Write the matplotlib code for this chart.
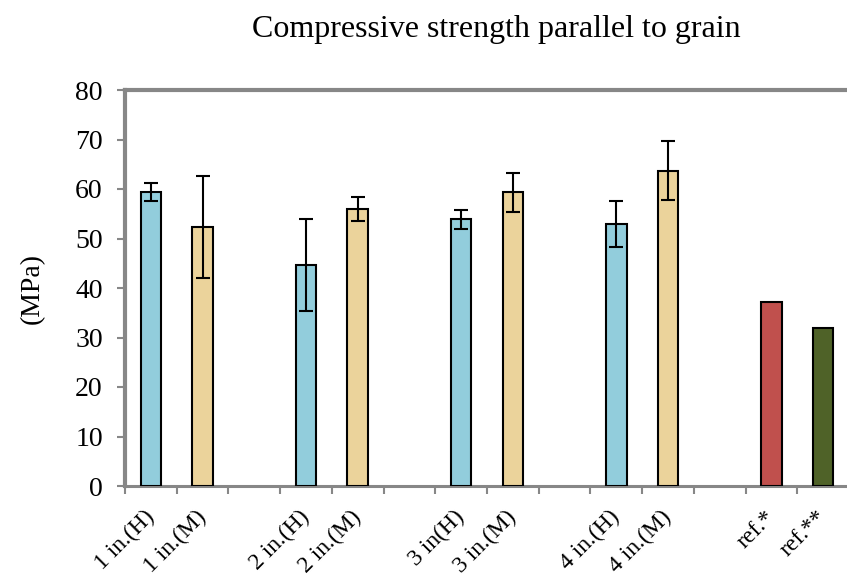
import matplotlib
matplotlib.use("Agg")
import matplotlib.pyplot as plt
import numpy as np

plt.rcParams['font.family'] = ['Liberation Serif', 'DejaVu Serif']

# slot labels along the x axis (empty strings are gaps between groups)
slots = ['1 in.(H)', '1 in.(M)', '', '2 in.(H)', '2 in.(M)', '', '3 in(H)', '3 in.(M)', '',
         '4 in.(H)', '4 in.(M)', '', 'ref.*', 'ref.**']
bar_labels = ['1 in.(H)', '1 in.(M)', '2 in.(H)', '2 in.(M)', '3 in(H)', '3 in.(M)',
              '4 in.(H)', '4 in.(M)', 'ref.*', 'ref.**']
strength = [59.4, 52.4, 44.6, 56.0, 53.9, 59.3, 52.9, 63.7, 37.1, 32.0]
std_dev = [1.9, 10.3, 9.3, 2.4, 1.9, 3.9, 4.6, 6.0, 0, 0]
has_err = [True, True, True, True, True, True, True, True, False, False]
colors = ['#92cddc', '#ebd39b', '#92cddc', '#ebd39b', '#92cddc', '#ebd39b',
          '#92cddc', '#ebd39b', '#c0504d', '#4f6228']

fig = plt.figure(figsize=(8.47, 5.85), dpi=100)
ax = fig.add_axes([125 / 847, 1 - 486 / 585, 724 / 847, 396 / 585])

x = np.array([slots.index(l) for l in bar_labels]) + 0.5
ax.bar(x, strength, width=0.4, color=colors, edgecolor='black', linewidth=1.5, zorder=3)
for xi, v, e, h in zip(x, strength, std_dev, has_err):
    if h:
        ax.errorbar(xi, v, yerr=e, fmt='none', ecolor='black', elinewidth=1.5,
                    capsize=5, capthick=1.5, zorder=4)

ax.set_xlim(0, len(slots))
ax.set_ylim(0, 80)
ax.set_yticks(range(0, 81, 10))

ax.set_xticks(range(0, len(slots) + 1))
ax.set_xticklabels([])
ax.set_xticks(np.arange(len(slots)) + 0.5, minor=True)
ax.set_xticklabels(slots, minor=True, rotation=45, ha='right', va='center',
                   rotation_mode='anchor', fontsize=17)
ax.tick_params(axis='x', which='minor', length=0, pad=20)
ax.tick_params(axis='x', which='major', direction='out', length=6, width=1.5, color='#878787')
ax.tick_params(axis='y', direction='out', length=6, width=1.5, color='#878787',
               labelsize=20, pad=10)

for s in ['top', 'left', 'right']:
    ax.spines[s].set_color('#878787')
    ax.spines[s].set_linewidth(3)
ax.spines['bottom'].set_color('#878787')
ax.spines['bottom'].set_linewidth(2.2)

fig.text(496 / 847, 1 - 30 / 585, 'Compressive strength parallel to grain',
         ha='center', va='center', fontsize=23)
fig.text(32 / 847, 1 - 288 / 585, '(MPa)', ha='center', va='center',
         rotation=90, fontsize=20)

fig.savefig('out.png', dpi=100)
